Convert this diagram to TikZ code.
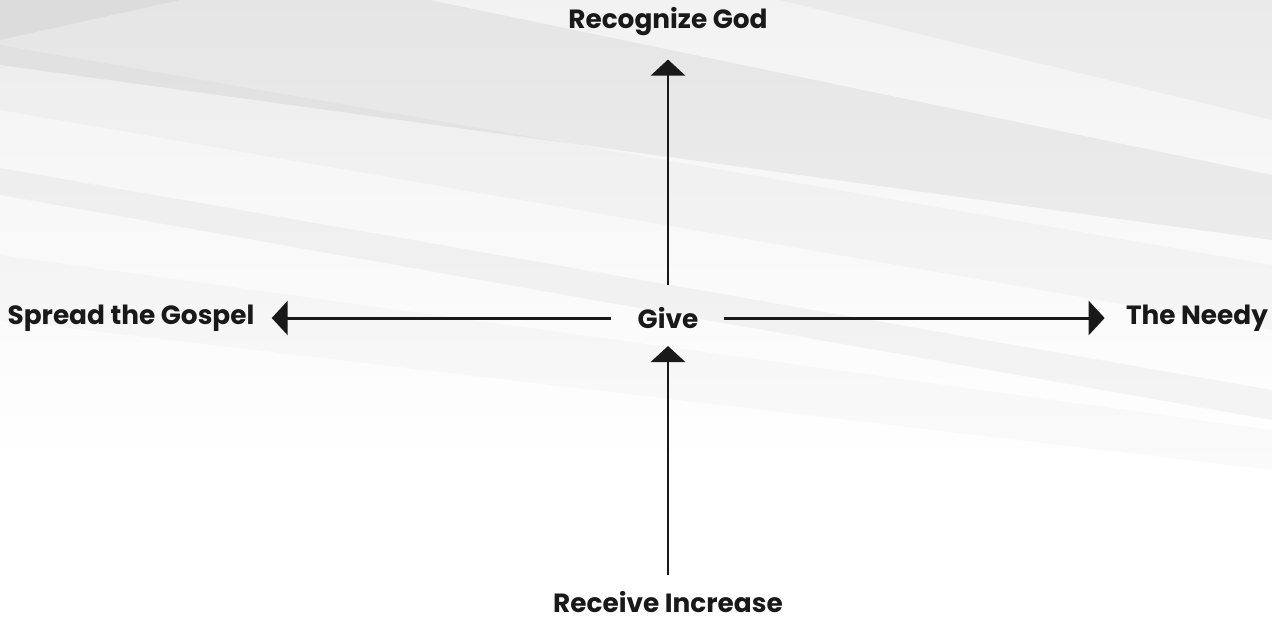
\documentclass[tikz,border=0pt]{standalone}
\usepackage{fontspec}
\setmainfont{Poppins}
\usepackage{tikz}
\usetikzlibrary{arrows.meta,positioning,calc}

\begin{document}
\begin{tikzpicture}[
    x=0.02cm, y=-0.02cm,
    font=\bfseries\fontsize{15}{18}\selectfont,
    lbl/.style={inner sep=0pt, text=black!90},
    arr/.style={-{Triangle[length=3.2mm,width=6.8mm]}, draw=black!90, line width=1.7pt},
    streak/.style={fill=black, opacity=#1, draw=none}
]

% background
\useasboundingbox (0,0) rectangle (1272,620);
\fill[white] (0,0) rectangle (1272,620);
\shade[top color=black!5, bottom color=white] (0,0) rectangle (1272,470);
\fill[streak=0.05] (0,0) -- (430,0) -- (1272,175) -- (1272,240) -- (0,65) -- cycle;
\fill[streak=0.025] (0,45) -- (0,110) -- (1272,330) -- (1272,265) -- cycle;
\fill[streak=0.035] (0,168) -- (0,195) -- (1272,420) -- (1272,390) -- cycle;
\fill[streak=0.02] (0,255) -- (0,320) -- (1272,470) -- (1272,430) -- cycle;
\fill[streak=0.03] (780,0) -- (1272,0) -- (1272,120) -- cycle;
\fill[streak=0.04] (0,0) -- (180,0) -- (0,40) -- cycle;

\node[lbl] (give) at (668,318) {Give};
\node[lbl] (recog) at (668,22) {Recognize God};
\node[lbl] (receive) at (668,602) {Receive Increase};
\node[lbl] (spread) at (131,318) {Spread the Gospel};
\node[lbl] (needy) at (1197,318) {The Needy};

\draw[arr, shorten <=4.4mm, shorten >=4.6mm] (give) -- (recog);
\draw[arr, shorten <=5.2mm, shorten >=3.4mm] (give) -- (spread);
\draw[arr, shorten <=5.0mm, shorten >=4.2mm] (give) -- (needy);
\draw[arr, shorten <=3.2mm, shorten >=3.4mm] (receive) -- (give);

\end{tikzpicture}
\end{document}
